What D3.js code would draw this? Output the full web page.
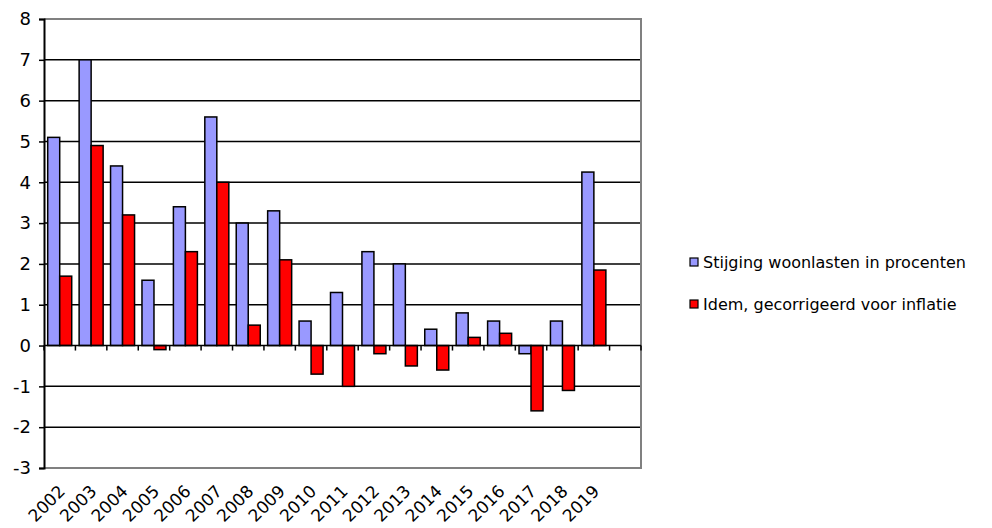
<!DOCTYPE html>
<html>
<head>
<meta charset="utf-8">
<script src="https://cdn.jsdelivr.net/npm/d3@7"></script>
<style>
  body { margin: 0; background: #fff; }
  text { font-family: "DejaVu Sans", Verdana, sans-serif; fill: #000; }
</style>
</head>
<body>
<svg id="chart"></svg>
<script>
// data
var years = ["2002", "2003", "2004", "2005", "2006", "2007", "2008", "2009", "2010",
             "2011", "2012", "2013", "2014", "2015", "2016", "2017", "2018", "2019"];
var woonlasten = [5.1, 7.0, 4.4, 1.6, 3.4, 5.6, 3.0, 3.3, 0.6, 1.3, 2.3, 2.0, 0.4, 0.8, 0.6, -0.2, 0.6, 4.25];
var gecorrigeerd = [1.7, 4.9, 3.2, -0.1, 2.3, 4.0, 0.5, 2.1, -0.7, -1.0, -0.2, -0.5, -0.6, 0.2, 0.3, -1.6, -1.1, 1.85];
var seriesNames = ["Stijging woonlasten in procenten", "Idem, gecorrigeerd voor inflatie"];
var seriesColors = ["#9999ff", "#ff0000"];
var yTicks = [-3, -2, -1, 0, 1, 2, 3, 4, 5, 6, 7, 8];

var width = 992;
var height = 528;
// plot area edges
var pLeft = 44, pRight = 641, pTop = 19, pBottom = 468;

var svg = d3.select("#chart")
    .attr("width", width)
    .attr("height", height);

var rows = years.map((y, i) => ({ idx: i, year: y, values: [woonlasten[i], gecorrigeerd[i]] }));

var yScale = d3.scaleLinear()
    .domain([-3, 8])
    .range([pBottom, pTop]);

// one empty slot after 2019, as in the original sheet
var xScale = d3.scaleBand()
    .domain(d3.range(years.length + 1))
    .range([pLeft, pRight])
    .paddingInner(0.236)
    .paddingOuter(0.118);

var xSub = d3.scaleBand()
    .domain([0, 1])
    .range([0, xScale.bandwidth()]);

// gridlines
svg.append("g")
    .selectAll("line")
    .data(yTicks.filter(d => d !== 8 && d !== -3 && d !== 0))
    .enter()
    .append("line")
        .attr("x1", pLeft)
        .attr("x2", pRight)
        .attr("y1", d => yScale(d))
        .attr("y2", d => yScale(d))
        .attr("stroke", "#000")
        .attr("stroke-width", 1.5);

// plot border (top, right, bottom in gray)
svg.append("path")
    .attr("d", "M" + pLeft + "," + yScale(8) + "H" + pRight + "V" + yScale(-3) + "H" + pLeft)
    .attr("fill", "none")
    .attr("stroke", "#808080")
    .attr("stroke-width", 2);

// bars
var groups = svg.append("g")
    .selectAll("g")
    .data(rows)
    .enter()
    .append("g")
        .attr("transform", d => "translate(" + xScale(d.idx) + ",0)");

groups.selectAll("rect")
    .data(d => d.values.map((v, i) => ({ i: i, v: v })))
    .enter()
    .append("rect")
        .attr("x", d => xSub(d.i))
        .attr("width", xSub.bandwidth())
        .attr("y", d => yScale(Math.max(0, d.v)))
        .attr("height", d => Math.abs(yScale(d.v) - yScale(0)))
        .attr("fill", d => seriesColors[d.i])
        .attr("stroke", "#000")
        .attr("stroke-width", 1.5);

// x axis at zero, ticks between categories
var step = xScale.step();
var xAxisG = svg.append("g");
xAxisG.append("line")
    .attr("x1", pLeft)
    .attr("x2", pRight)
    .attr("y1", yScale(0))
    .attr("y2", yScale(0))
    .attr("stroke", "#000")
    .attr("stroke-width", 1.5);
xAxisG.selectAll("line.tick")
    .data(d3.range(years.length + 2))
    .enter()
    .append("line")
        .attr("class", "tick")
        .attr("x1", i => pLeft + i * step)
        .attr("x2", i => pLeft + i * step)
        .attr("y1", yScale(0))
        .attr("y2", yScale(0) + 5)
        .attr("stroke", "#000")
        .attr("stroke-width", 1.5);

// year labels, rotated
svg.append("g")
    .selectAll("text")
    .data(rows)
    .enter()
    .append("text")
        .attr("transform", d => "translate(" + (xScale(d.idx) + xScale.bandwidth() / 2 - 2) + "," + (pBottom + 16) + ") rotate(-45)")
        .attr("text-anchor", "end")
        .attr("dy", "0.7em")
        .style("font-size", "17px")
        .text(d => d.year);

// y axis
var yAxis = d3.axisLeft(yScale)
    .tickValues(yTicks)
    .tickSize(5)
    .tickPadding(8)
    .tickFormat(d => String(d));

var yAxisG = svg.append("g")
    .attr("transform", "translate(" + pLeft + ",0)")
    .call(yAxis);
yAxisG.select(".domain").attr("stroke", "#000").attr("stroke-width", 2);
yAxisG.selectAll(".tick line").attr("stroke", "#000").attr("stroke-width", 1.5);
yAxisG.selectAll(".tick text")
    .style("font-size", "18px")
    .style("font-family", "DejaVu Sans, sans-serif")
    .attr("fill", "#000");

// legend
var legend = svg.append("g")
    .selectAll("g")
    .data(seriesNames)
    .enter()
    .append("g")
        .attr("transform", (d, i) => "translate(690," + (258 + i * 42) + ")");

legend.append("rect")
    .attr("width", 8)
    .attr("height", 8)
    .attr("fill", (d, i) => seriesColors[i])
    .attr("stroke", "#000")
    .attr("stroke-width", 1.2);

legend.append("text")
    .attr("x", 13)
    .attr("y", 4)
    .attr("dy", "0.36em")
    .style("font-size", "16px")
    .text(d => d);
</script>
</body>
</html>
